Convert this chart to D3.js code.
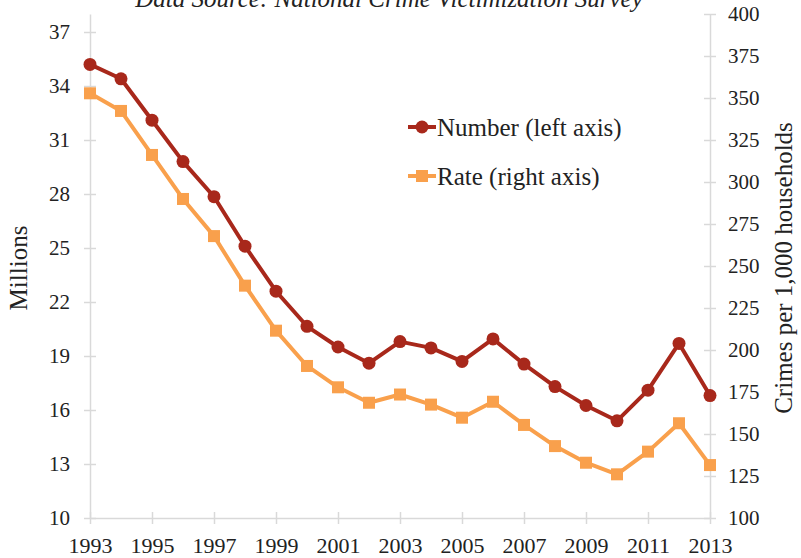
<!DOCTYPE html>
<html lang="en">
<head>
<meta charset="utf-8">
<title>Property crime victimizations</title>
<script src="https://cdnjs.cloudflare.com/ajax/libs/d3/7.8.5/d3.min.js"></script>
<style>
  body { margin: 0; background: #fff; }
  svg text { font-family: "Liberation Serif", "Times New Roman", serif !important; fill: #222; }
</style>
</head>
<body>
<script>
// data
const years = [1993, 1994, 1995, 1996, 1997, 1998, 1999, 2000, 2001, 2002, 2003,
               2004, 2005, 2006, 2007, 2008, 2009, 2010, 2011, 2012, 2013];
const numberMillions = [35.2, 34.4, 32.1, 29.8, 27.85, 25.1, 22.6, 20.65, 19.5, 18.6, 19.8,
                        19.45, 18.7, 19.95, 18.55, 17.3, 16.25, 15.4, 17.1, 19.7, 16.8];
const ratePer1000 = [352.8, 342.3, 316.1, 289.9, 267.8, 238.3, 211.5, 190.5, 177.8, 168.6, 173.5,
                     167.5, 159.7, 169.2, 155.4, 142.8, 132.9, 126.0, 139.5, 156.4, 131.5];
const xTicks = d3.range(1993, 2014, 2);
const leftTicks = d3.range(10, 38, 3);
const rightTicks = d3.range(100, 401, 25);

const w = 801, h = 558;
const padL = 90, padR = 710, padT = 14, padB = 518;
const axisColor = "#d9d9d9";
const numColor = "#a8281b";
const rateColor = "#f9a04c";

const svg = d3.select("body").append("svg")
  .attr("width", w).attr("height", h);

const x = d3.scaleLinear().domain([1993, 2013]).range([padL, padR]);
const yL = d3.scaleLinear().domain([10, 38]).range([padB, padT]);
const yR = d3.scaleLinear().domain([100, 400]).range([padB, padT]);

// title (cut off at the top in the original)
svg.append("text")
  .attr("x", 389).attr("y", 7)
  .attr("text-anchor", "middle")
  .style("font-style", "italic")
  .style("font-size", "25px")
  .text("Data Source: National Crime Victimization Survey");

function styleAxis(g) {
  g.attr("font-family", null);
  g.select(".domain").attr("stroke", axisColor).attr("stroke-width", 1.5);
  g.selectAll(".tick line").attr("stroke", axisColor).attr("stroke-width", 1.5);
  g.selectAll(".tick text").style("font-size", "21px").attr("fill", "#222");
}

// x axis
const gx = svg.append("g").attr("transform", `translate(0,${padB})`)
  .call(d3.axisBottom(x).tickValues(xTicks).tickFormat(d3.format("d"))
    .tickSizeInner(12).tickSizeOuter(0));
gx.selectAll(".tick line").attr("y1", -6).attr("y2", 6);
styleAxis(gx);
gx.selectAll(".tick text").attr("y", 35).attr("dy", 0).style("font-size", "22px");

// left axis
const gl = svg.append("g").attr("transform", `translate(${padL},0)`)
  .call(d3.axisLeft(yL).tickValues(leftTicks).tickSizeOuter(0).tickPadding(14));
gl.selectAll(".tick line").attr("x1", -6).attr("x2", 6);
styleAxis(gl);

// right axis
const gr = svg.append("g").attr("transform", `translate(${padR},0)`)
  .call(d3.axisRight(yR).tickValues(rightTicks).tickSizeOuter(0).tickPadding(12));
gr.selectAll(".tick line").attr("x1", -6).attr("x2", 6);
styleAxis(gr);

// axis titles
svg.append("text")
  .attr("transform", "translate(18,268) rotate(-90)")
  .attr("text-anchor", "middle").attr("dy", "0.35em")
  .style("font-size", "25px")
  .text("Millions");

svg.append("text")
  .attr("transform", "translate(783,268) rotate(-90)")
  .attr("text-anchor", "middle").attr("dy", "0.35em")
  .style("font-size", "25px")
  .text("Crimes per 1,000 households");

// rate series (orange, squares)
const rateLine = d3.line().x((d, i) => x(years[i])).y(d => yR(d));
svg.append("path").datum(ratePer1000)
  .attr("d", rateLine).attr("fill", "none")
  .attr("stroke", rateColor).attr("stroke-width", 4).attr("stroke-linejoin", "round");
svg.selectAll(".sq").data(ratePer1000).enter().append("rect")
  .attr("class", "sq")
  .attr("x", (d, i) => x(years[i]) - 6)
  .attr("y", d => yR(d) - 6)
  .attr("width", 12).attr("height", 12)
  .attr("fill", rateColor);

// number series (dark red, circles)
const numLine = d3.line().x((d, i) => x(years[i])).y(d => yL(d));
svg.append("path").datum(numberMillions)
  .attr("d", numLine).attr("fill", "none")
  .attr("stroke", numColor).attr("stroke-width", 4).attr("stroke-linejoin", "round");
svg.selectAll(".dot").data(numberMillions).enter().append("circle")
  .attr("class", "dot")
  .attr("cx", (d, i) => x(years[i]))
  .attr("cy", d => yL(d))
  .attr("r", 6.5)
  .attr("fill", numColor);

// legend
const legend = svg.append("g");
const items = [
  { label: "Number (left axis)", color: numColor, shape: "circle", y: 127 },
  { label: "Rate (right axis)", color: rateColor, shape: "square", y: 176 }
];
items.forEach(it => {
  legend.append("line")
    .attr("x1", 408).attr("x2", 436).attr("y1", it.y).attr("y2", it.y)
    .attr("stroke", it.color).attr("stroke-width", 4);
  if (it.shape === "circle") {
    legend.append("circle").attr("cx", 422).attr("cy", it.y).attr("r", 6.5).attr("fill", it.color);
  } else {
    legend.append("rect").attr("x", 416).attr("y", it.y - 6).attr("width", 12).attr("height", 12).attr("fill", it.color);
  }
  legend.append("text")
    .attr("x", 437).attr("y", it.y).attr("dy", "0.35em")
    .style("font-size", "25px")
    .text(it.label);
});
</script>
</body>
</html>
